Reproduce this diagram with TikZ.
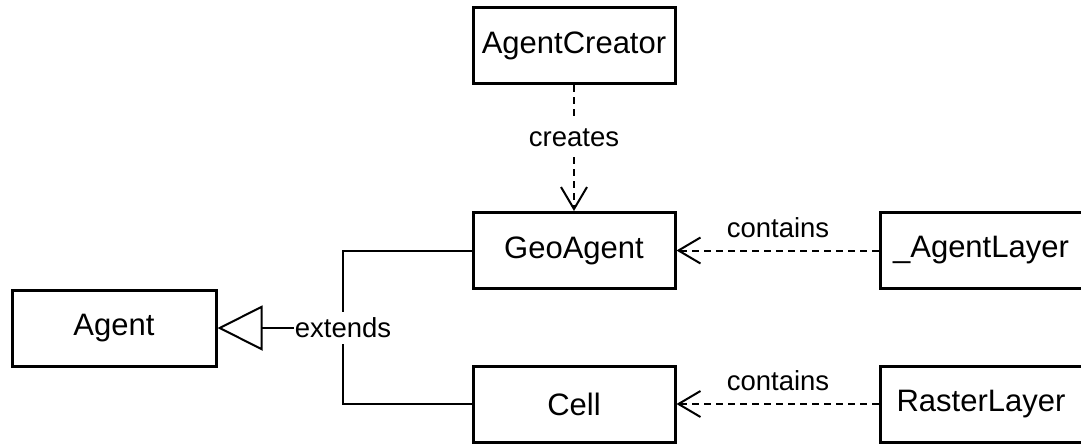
\documentclass[tikz,border=0pt]{standalone}
\usepackage{fontspec}
\setmainfont{Liberation Sans}
\usetikzlibrary{arrows.meta}
\begin{document}
\begin{tikzpicture}[x=1pt,y=-1pt,
  box/.style={draw, line width=3pt, minimum width=202pt, minimum height=76pt, inner sep=0pt, font=\fontsize{31}{37}\selectfont},
  lbl/.style={font=\fontsize{27.5}{33}\selectfont, inner sep=2pt},
  dep/.style={line width=2pt, dash pattern=on 7pt off 5pt, -{Straight Barb[length=22pt,width=26pt,line width=2pt]}},
  gen/.style={line width=2pt},
]
\useasboundingbox (0,0) rectangle (1081,444);
\fill[white] (0,0) rectangle (1081,444);
\begin{scope}
\clip (0,0) rectangle (1081,444);
\node[box] (creator) at (574,45.5) {AgentCreator};
\node[box] (geo) at (574,250.5) {GeoAgent};
\node[box] (cell) at (574,404) {Cell};
\node[box, minimum width=204pt] (agent) at (114,328) {Agent};
\node[box] (alayer) at (981,250.5) {\_AgentLayer};
\node[box] (raster) at (981,404) {RasterLayer};

\draw[dep] (creator.south) -- (geo.north);
\draw[dep] (alayer.west) -- (geo.east);
\draw[dep] (raster.west) -- (cell.east);
\node[lbl, fill=white, inner xsep=1pt, inner ysep=10pt] (lcreates) at (574,138) {creates};
\node[lbl] (lc1) at (778,228) {contains};
\node[lbl] (lc2) at (778,381) {contains};

\coordinate (extc) at (343,328);
\draw[gen] (geo.west) -| (extc) |- (cell.west);
\node[lbl, fill=white, inner xsep=1pt, inner ysep=6pt] (ext) at (extc) {extends};
\draw[gen, -{Triangle[open, length=45pt, width=45pt, line width=2pt, fill=white]}] (ext.west) -- (agent.east);
\end{scope}
\end{tikzpicture}
\end{document}
